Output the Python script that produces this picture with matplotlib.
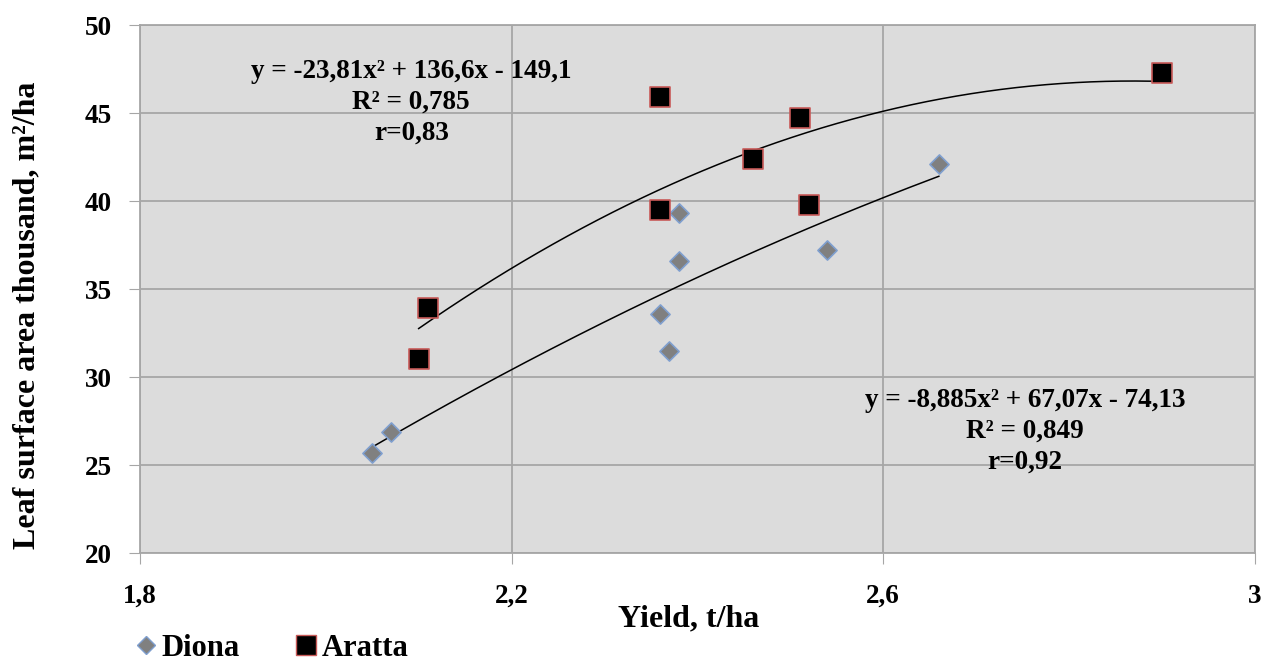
import numpy as np
import matplotlib; matplotlib.use("Agg")
import matplotlib.pyplot as plt
from matplotlib.lines import Line2D

plt.rcParams["font.family"] = ["Liberation Serif", "DejaVu Serif"]
plt.rcParams["font.weight"] = "bold"

# ---- data ----
diona_x = [2.05, 2.07, 2.36, 2.37, 2.38, 2.38, 2.54, 2.66]
diona_y = [25.7, 26.9, 33.6, 31.5, 39.3, 36.6, 37.2, 42.1]
aratta_x = [2.10, 2.11, 2.36, 2.36, 2.46, 2.51, 2.52, 2.90]
aratta_y = [31.0, 33.9, 45.9, 39.5, 42.4, 44.7, 39.8, 47.3]
# printed trend coefficients (a, b, c for a*x^2 + b*x + c)
diona_coef = [-8.885, 67.07, -74.13]
aratta_coef = [-23.81, 136.6, -149.1]
diona_eq = ["y = -8,885x\u00b2 + 67,07x - 74,13", "R\u00b2 = 0,849", "r=0,92"]
aratta_eq = ["y = -23,81x\u00b2 + 136,6x - 149,1", "R\u00b2 = 0,785", "r=0,83"]
xticks = [1.8, 2.2, 2.6, 3.0]
xticklabels = ["1,8", "2,2", "2,6", "3"]
yticks = [20, 25, 30, 35, 40, 45, 50]

fig = plt.figure(figsize=(12.61, 6.6), dpi=100)
ax = fig.add_axes([0.111, 0.162, 0.884, 0.800])
ax.set_facecolor("#dcdcdc")
ax.set_xlim(1.8, 3.0); ax.set_ylim(20, 50)
ax.set_xticks(xticks); ax.set_xticklabels(xticklabels)
ax.set_yticks(yticks)
ax.grid(True, color="#a6a6a6", lw=1.3)
ax.set_axisbelow(True)
for s in ax.spines.values():
    s.set_color("#a6a6a6"); s.set_linewidth(1.3)
ax.tick_params(axis="both", length=8, color="#a6a6a6", labelsize=19.5)
ax.tick_params(axis="y", pad=12)
ax.tick_params(axis="x", pad=14)

# trend lines from printed coefficients
xs = np.linspace(min(diona_x), max(diona_x), 200)
ax.plot(xs, np.polyval(diona_coef, xs), color="black", lw=1.1, zorder=2)
xs = np.linspace(min(aratta_x), max(aratta_x), 200)
ax.plot(xs, np.polyval(aratta_coef, xs), color="black", lw=1.1, zorder=2)

ax.scatter(diona_x, diona_y, marker="D", s=95, c="#808080", edgecolors="#7f9fcf", linewidths=1.2, zorder=3)
ax.scatter(aratta_x, aratta_y, marker="s", s=200, c="black", edgecolors="#c85a58", linewidths=1.2, zorder=4)

ax.text(2.092, 45.6, "\n".join(aratta_eq), ha="center", va="center", fontsize=19.5,
        fontweight="bold", linespacing=1.3)
ax.text(2.753, 26.9, "\n".join(diona_eq), ha="center", va="center", fontsize=19.5,
        fontweight="bold", linespacing=1.3)

fig.text(0.546, 1 - 619 / 660, "Yield, t/ha", ha="center", va="center", fontsize=23,
         fontweight="bold")
fig.text(0.021, 1 - 315 / 660, "Leaf surface area thousand, m\u00b2/ha", rotation=90, ha="center",
         va="center", fontsize=23, fontweight="bold")

h = [Line2D([0], [0], marker="D", ls="", ms=9, mfc="#808080", mec="#7f9fcf", label="Diona"),
     Line2D([0], [0], marker="s", ls="", ms=14, mfc="black", mec="#c85a58", label="Aratta")]
fig.legend(handles=h, loc="center left", bbox_to_anchor=(0.101, 1 - 648 / 660), ncol=2, frameon=False,
           prop={"size": 22, "weight": "bold"}, handletextpad=-0.1, columnspacing=1.6,
           handlelength=1.2, borderaxespad=0, borderpad=0)

fig.savefig("out.png", dpi=100)
